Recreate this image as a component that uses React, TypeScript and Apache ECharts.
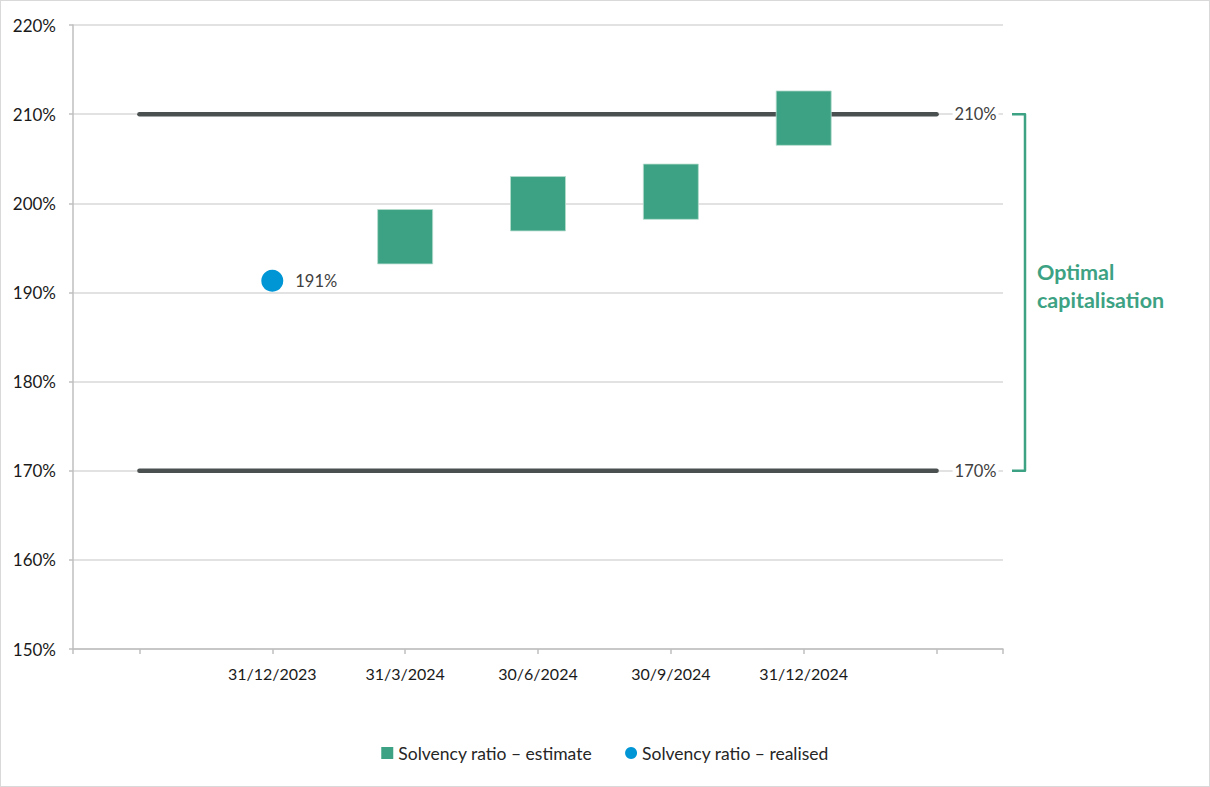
import React, { useEffect, useRef } from "react";
import * as echarts from "echarts";

const categories = ["", "31/12/2023", "31/3/2024", "30/6/2024", "30/9/2024", "31/12/2024", ""];
const yTicks = [150, 160, 170, 180, 190, 200, 210, 220];
const estimateLow = [null, null, 193.2, 196.9, 198.2, 206.5, null];
const estimateHigh = [null, null, 199.3, 203.0, 204.4, 212.6, null];
const realised = [null, 191.3, null, null, null, null, null];
const realisedLabels = ["", "191%", "", "", "", "", ""];
const thresholds = [170, 210];
const thresholdLabels = ["170%", "210%"];
const bracketText = ["Optimal", "capitalisation"];
const legendNames = ["Solvency ratio – estimate", "Solvency ratio – realised"];

const GREEN = "#3DA283";
const BLUE = "#0096D6";
const FONT = "Lato, 'Open Sans', sans-serif";

export default function App() {
  const ref = useRef<HTMLDivElement>(null);
  useEffect(() => {
    if (!ref.current) return;
    const chart = echarts.init(ref.current, null, { renderer: "svg" });
    const last = categories.length - 1;
    const estData = categories
      .map((_, i) => (estimateLow[i] != null ? [i, estimateLow[i], estimateHigh[i]] : null))
      .filter((d) => d !== null);
    const realData = categories
      .map((_, i) => (realised[i] != null ? { value: [i, realised[i]], label: { formatter: realisedLabels[i] } } : null))
      .filter((d) => d !== null);
    const lineSeries = thresholds.map((t, k) => ({
      type: "line",
      name: "threshold" + k,
      data: [
        [0, t],
        [last, t],
      ],
      symbol: "none",
      lineStyle: { color: "#4A5050", width: 4.5, cap: "round" },
      endLabel: {
        show: true,
        formatter: thresholdLabels[k],
        distance: 16,
        color: "#404040",
        fontSize: 16.5,
        fontFamily: FONT,
        backgroundColor: "#ffffff",
        padding: [0, 2],
      },
      z: 3,
      silent: true,
    }));
    chart.setOption({
      animation: false,
      textStyle: { fontFamily: FONT },
      grid: { left: 72, right: 206, top: 24, bottom: 137, containLabel: false },
      xAxis: {
        type: "value",
        min: -0.5,
        max: last + 0.5,
        axisLine: { show: true, onZero: false, lineStyle: { color: "#BFBFBF", width: 1.5 } },
        axisTick: {
          show: true,
          length: 5,
          lineStyle: { color: "#BFBFBF", width: 1.5 },
          customValues: [-0.5, ...categories.map((_, i) => i), last + 0.5],
        },
        axisLabel: {
          customValues: categories.map((c, i) => (c ? i : null)).filter((v) => v !== null),
          formatter: (v: number) => categories[Math.round(v)] || "",
          color: "#1A1A1A",
          fontSize: 16,
          margin: 16,
          fontFamily: FONT,
        },
        splitLine: { show: false },
      },
      yAxis: {
        type: "value",
        min: yTicks[0],
        max: yTicks[yTicks.length - 1],
        interval: 10,
        axisLine: { show: true, onZero: false, lineStyle: { color: "#BFBFBF", width: 1.5 } },
        axisTick: { show: true, length: 4, lineStyle: { color: "#BFBFBF", width: 1.5 } },
        axisLabel: {
          formatter: (v: number) => v + "%",
          color: "#1A1A1A",
          fontSize: 17,
          margin: 17,
          fontFamily: FONT,
        },
        splitLine: { show: true, lineStyle: { color: "#D9D9D9", width: 1.5 } },
      },
      legend: {
        bottom: 19,
        left: "center",
        itemWidth: 12,
        itemHeight: 12,
        itemGap: 33,
        textStyle: { color: "#262626", fontSize: 17.5, fontFamily: FONT },
        data: [
          { name: legendNames[0], icon: "rect", itemStyle: { color: GREEN } },
          { name: legendNames[1], icon: "circle", itemStyle: { color: BLUE } },
        ],
      },
      series: [
        ...lineSeries,
        {
          type: "custom",
          name: legendNames[0],
          itemStyle: { color: GREEN },
          data: estData,
          z: 4,
          renderItem: (params: any, api: any) => {
            const x = api.value(0);
            const top = api.coord([x, api.value(2)]);
            const bot = api.coord([x, api.value(1)]);
            const w = 55;
            return {
              type: "rect",
              shape: { x: top[0] - w / 2, y: top[1], width: w, height: bot[1] - top[1] },
              style: { fill: GREEN, stroke: "#B5DCCD", lineWidth: 0.8 },
            };
          },
        },
        {
          type: "scatter",
          name: legendNames[1],
          data: realData,
          symbol: "circle",
          symbolSize: 22,
          itemStyle: { color: BLUE, opacity: 1 },
          label: {
            show: true,
            position: "right",
            distance: 12,
            color: "#404040",
            fontSize: 16.5,
            fontFamily: FONT,
          },
          z: 5,
        },
      ],
    });
    const yTop = chart.convertToPixel({ yAxisIndex: 0 }, thresholds[1]) as number;
    const yBot = chart.convertToPixel({ yAxisIndex: 0 }, thresholds[0]) as number;
    const bx = 1024;
    chart.setOption({
      graphic: [
        {
          type: "polyline",
          shape: {
            points: [
              [1011, yTop],
              [bx, yTop],
              [bx, yBot],
              [1011, yBot],
            ],
          },
          style: { stroke: GREEN, lineWidth: 2.5, fill: "none", lineJoin: "round" },
        },
        {
          type: "text",
          x: 1036,
          y: (yTop + yBot) / 2 - 6,
          style: {
            text: bracketText.join("\n"),
            fill: GREEN,
            font: "bold 21.5px " + FONT,
            lineHeight: 28,
            verticalAlign: "middle",
            align: "left",
          },
        },
      ],
    });
    return () => chart.dispose();
  }, []);
  return (
    <div
      ref={ref}
      style={{
        position: "fixed",
        left: 0,
        top: 0,
        width: 1210,
        height: 787,
        boxSizing: "border-box",
        border: "1px solid #D9D9D9",
        background: "#fff",
      }}
    />
  );
}
